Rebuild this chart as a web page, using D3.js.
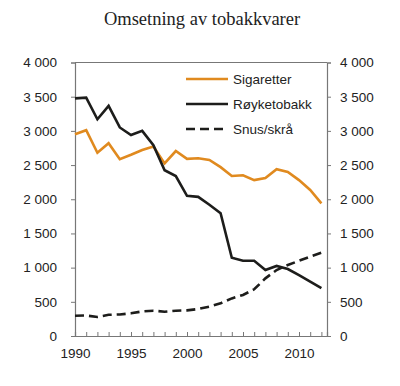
<!DOCTYPE html>
<html>
<head>
<meta charset="utf-8">
<script src="https://cdn.jsdelivr.net/npm/d3@7"></script>
<style>
  body { margin: 0; background: #fff; }
  text { font-family: "Liberation Sans", Arial, sans-serif; }
</style>
</head>
<body>
<script>
// data
const years = d3.range(1990, 2013)
const sigaretter = [2950, 3010, 2680, 2820, 2585, 2650, 2720, 2770, 2525, 2705, 2590, 2600,
    2575, 2470, 2340, 2350, 2280, 2310, 2440, 2400, 2280, 2135, 1940]
const royketobakk = [3475, 3485, 3170, 3365, 3050, 2940, 3000, 2790, 2425, 2340, 2050, 2035,
    1920, 1795, 1145, 1100, 1100, 965, 1025, 980, 890, 795, 700]
const snus = [297, 300, 278, 310, 315, 332, 360, 370, 355, 370, 375, 395,
    430, 478, 550, 600, 683, 843, 965, 1038, 1100, 1160, 1218]
const yTicks = [0, 500, 1000, 1500, 2000, 2500, 3000, 3500, 4000]
const xLabels = [1990, 1995, 2000, 2005, 2010]

const series = [
    { name: 'Sigaretter', values: sigaretter, color: '#e08a1f', dash: null },
    { name: 'Røyketobakk', values: royketobakk, color: '#1d1d1b', dash: null },
    { name: 'Snus/skrå', values: snus, color: '#1d1d1b', dash: '9,5' }
]

const m = { left: 75, right: 327, top: 62.5, bottom: 336 }

const svg = d3.select('body').append('svg')
    .attr('width', 400)
    .attr('height', 386)

svg.append('text')
    .attr('x', 202)
    .attr('y', 25)
    .attr('text-anchor', 'middle')
    .style('font-family', '"Liberation Serif", "Times New Roman", serif')
    .style('font-size', '18.5px')
    .attr('fill', '#222')
    .text('Omsetning av tobakkvarer')

const x = d3.scaleLinear().domain([1990, 2012.5]).range([m.left, m.right])
const y = d3.scaleLinear().domain([0, 4000]).range([m.bottom, m.top])

const fmt = d => d3.format(',')(d).replace(',', ' ')

// left axis
const yl = svg.append('g')
    .attr('transform', `translate(${m.left},0)`)
    .call(d3.axisLeft(y).tickValues(yTicks).tickSize(4).tickPadding(14).tickFormat(fmt))
// right axis
const yr = svg.append('g')
    .attr('transform', `translate(${m.right},0)`)
    .call(d3.axisRight(y).tickValues(yTicks).tickSize(4).tickPadding(9).tickFormat(fmt))
// bottom axis, ticks every year pointing inward
const xa = svg.append('g')
    .attr('transform', `translate(0,${m.bottom})`)
    .call(d3.axisBottom(x).tickValues(years).tickSize(-4).tickPadding(12)
        .tickFormat(d => xLabels.includes(d) ? d : ''))

for (const ax of [yl, yr, xa]) {
    ax.select('.domain').attr('stroke', '#777').attr('stroke-width', 1.2)
    ax.selectAll('.tick line').attr('stroke', '#777')
    ax.selectAll('text').attr('fill', '#222').style('font-size', '13.5px')
        .style('font-family', '"Liberation Sans", Arial, sans-serif')
}
// top border
svg.append('line')
    .attr('x1', m.left).attr('x2', m.right)
    .attr('y1', m.top).attr('y2', m.top)
    .attr('stroke', '#777').attr('stroke-width', 1.2)

const line = d3.line()
    .x((d, i) => x(years[i]))
    .y(d => y(d))

svg.selectAll('.series')
    .data(series)
    .enter()
    .append('path')
        .attr('class', 'series')
        .attr('d', d => line(d.values))
        .attr('fill', 'none')
        .attr('stroke', d => d.color)
        .attr('stroke-width', 2.6)
        .attr('stroke-dasharray', d => d.dash)

// legend
const lg = svg.append('g')
lg.selectAll('line')
    .data(series)
    .enter()
    .append('line')
        .attr('x1', 186).attr('x2', 228)
        .attr('y1', (d, i) => 79 + i * 25)
        .attr('y2', (d, i) => 79 + i * 25)
        .attr('stroke', d => d.color)
        .attr('stroke-width', 2.6)
        .attr('stroke-dasharray', d => d.dash)
lg.selectAll('text')
    .data(series)
    .enter()
    .append('text')
        .attr('x', 233)
        .attr('y', (d, i) => 79 + i * 25)
        .attr('dy', '0.35em')
        .style('font-size', '13.5px')
        .attr('fill', '#222')
        .text(d => d.name)
</script>
</body>
</html>
